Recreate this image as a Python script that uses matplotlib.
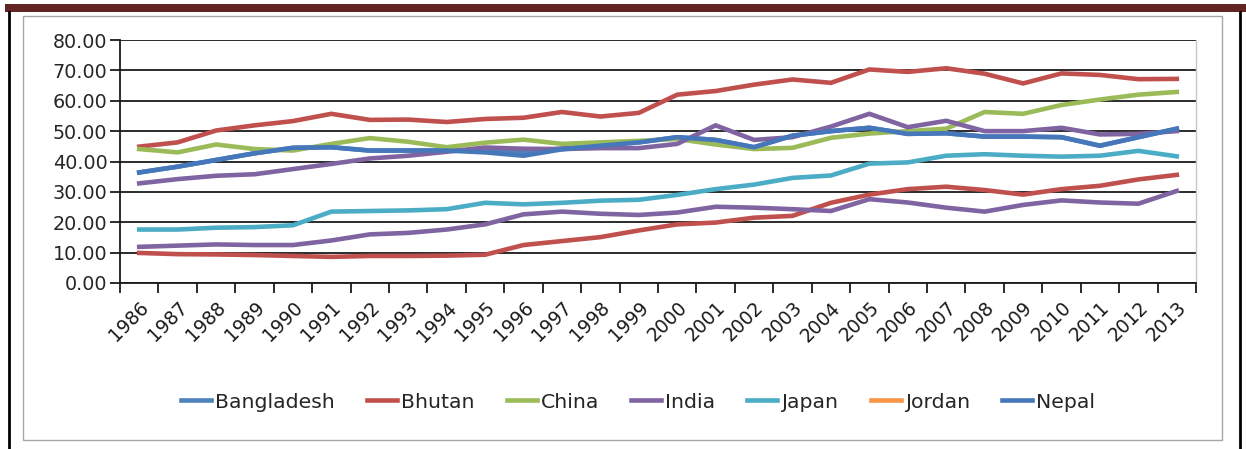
import numpy as np
import matplotlib
matplotlib.use("Agg")
import matplotlib.pyplot as plt
from matplotlib.lines import Line2D
from matplotlib.patches import Rectangle

years = list(range(1986, 2014))

bangladesh = [36.4, 38.3, 40.5, 42.7, 44.5, 44.7, 43.6, 43.6, 43.6, 43.5, 43.0, 44.3, 45.3, 46.3,
              48.0, 47.1, 44.7, 48.5, 50.0, 51.1, 49.1, 49.3, 48.2, 48.2, 48.0, 45.2, 48.0, 50.8]
bhutan = [44.9, 46.3, 50.2, 51.9, 53.3, 55.7, 53.7, 53.8, 53.0, 54.0, 54.4, 56.3, 54.8, 56.0,
          62.0, 63.2, 65.3, 67.0, 65.9, 70.3, 69.5, 70.7, 68.9, 65.7, 69.0, 68.5, 67.1, 67.2]
china = [44.1, 43.0, 45.6, 44.1, 43.6, 45.8, 47.7, 46.5, 44.7, 46.2, 47.2, 45.8, 46.3, 46.8,
         47.4, 45.6, 44.1, 44.5, 47.8, 49.2, 50.0, 50.8, 56.3, 55.7, 58.6, 60.4, 62.0, 62.9]
india = [32.8, 34.2, 35.3, 35.8, 37.5, 39.2, 41.0, 41.9, 43.2, 44.6, 44.2, 44.1, 44.4, 44.4,
         45.8, 51.9, 47.1, 48.0, 51.5, 55.7, 51.3, 53.4, 50.0, 50.0, 51.1, 48.9, 49.1, 50.0]
japan = [17.6, 17.6, 18.2, 18.4, 19.0, 23.5, 23.7, 23.9, 24.3, 26.4, 25.9, 26.4, 27.1, 27.4,
         29.0, 30.9, 32.4, 34.6, 35.4, 39.3, 39.7, 41.9, 42.4, 41.9, 41.6, 41.9, 43.5, 41.7]
jordan = [np.nan] * len(years)
nepal = [36.4, 38.3, 40.5, 42.7, 44.5, 44.7, 43.6, 43.6, 43.6, 43.0, 41.9, 44.0, 45.2, 46.3,
         48.0, 47.1, 44.7, 48.5, 50.0, 51.1, 49.1, 49.3, 48.2, 48.2, 48.0, 45.2, 48.0, 50.8]
# two further series drawn with the same palette but left out of the legend
lower_red = [9.9, 9.5, 9.4, 9.2, 8.9, 8.6, 8.9, 8.9, 9.0, 9.3, 12.5, 13.8, 15.1, 17.3,
             19.3, 19.9, 21.5, 22.1, 26.4, 29.1, 30.9, 31.7, 30.6, 29.1, 30.9, 32.0, 34.1, 35.6]
lower_purple = [11.9, 12.3, 12.7, 12.5, 12.5, 14.0, 16.0, 16.5, 17.6, 19.3, 22.6, 23.5, 22.8, 22.4,
                23.2, 25.1, 24.8, 24.3, 23.7, 27.6, 26.5, 24.8, 23.5, 25.7, 27.2, 26.5, 26.1, 30.3]

yticks = [0, 10, 20, 30, 40, 50, 60, 70, 80]

series = [
    ("Bangladesh", bangladesh, "#4F81BD"),
    ("Bhutan", bhutan, "#C0504D"),
    ("China", china, "#9BBB59"),
    ("India", india, "#8064A2"),
    ("Japan", japan, "#4BACC6"),
    ("Jordan", jordan, "#F79646"),
    ("Nepal", nepal, "#4677BA"),
]
unlabeled = [(lower_red, "#C0504D"), (lower_purple, "#8064A2")]

W, H = 1246, 449
fig = plt.figure(figsize=(W / 100, H / 100), dpi=100)
fig.patch.set_facecolor("white")

# page decoration: maroon band, black side rules, grey chart frame
fig.add_artist(Rectangle((5 / W, 1 - 12 / H), 1 - 5 / W, 8 / H, transform=fig.transFigure,
                         facecolor="#632523", edgecolor="none"))
fig.add_artist(Line2D([9 / W, 9 / W], [0, 1 - 12 / H], transform=fig.transFigure,
                      color="black", lw=2))
fig.add_artist(Line2D([1240 / W, 1240 / W], [0, 1 - 12 / H], transform=fig.transFigure,
                      color="black", lw=2))
fig.add_artist(Rectangle((22.5 / W, 9 / H), (1221.5 - 22.5) / W, (437 - 13) / H,
                         transform=fig.transFigure, facecolor="none",
                         edgecolor="#A6A6A6", lw=1))

left, right, top, bottom = 120, 1196, 40, 283
ax = fig.add_axes([left / W, 1 - bottom / H, (right - left) / W, (bottom - top) / H])

x = np.arange(len(years))
lw = 3.3
for name, vals, col in series[:6]:
    ax.plot(x, vals, color=col, lw=lw, label=name, solid_joinstyle="miter", zorder=3)
for vals, col in unlabeled:
    ax.plot(x, vals, color=col, lw=lw, solid_joinstyle="miter", zorder=3)
name, vals, col = series[6]
ax.plot(x, vals, color=col, lw=lw, label=name, solid_joinstyle="miter", zorder=3)

ax.set_xlim(-0.5, len(years) - 0.5)
ax.set_ylim(0, 80)
ax.set_yticks(yticks)
ax.set_yticklabels([f"{v:.2f}" for v in yticks])
ax.yaxis.grid(True, color="#1a1a1a", lw=1.3, zorder=1)
ax.set_axisbelow(True)

ax.set_xticks(x)
ax.set_xticklabels([str(y) for y in years], rotation=45, ha="right",
                   rotation_mode="anchor")
ax.set_xticks(np.arange(len(years) + 1) - 0.5, minor=True)
ax.tick_params(axis="x", which="major", length=0, pad=11, labelsize=13.5, colors="#1a1a1a")
ax.tick_params(axis="x", which="minor", length=7, width=1.3, color="#1a1a1a")
ax.tick_params(axis="y", length=7, width=1.3, color="#1a1a1a", labelsize=13.8,
               labelcolor="#262626", pad=2)

ax.spines["top"].set_visible(False)
ax.spines["right"].set_color("#C8C8C8")
ax.spines["right"].set_linewidth(1)
ax.spines["left"].set_color("#1a1a1a")
ax.spines["left"].set_linewidth(1.3)
ax.spines["bottom"].set_color("#1a1a1a")
ax.spines["bottom"].set_linewidth(1.3)

handles, labels = ax.get_legend_handles_labels()
order = [labels.index(n) for n, _, _ in series]
fig.legend([handles[i] for i in order], [labels[i] for i in order],
           loc="center", bbox_to_anchor=(638 / W, 1 - 402 / H), ncol=7, frameon=False,
           fontsize=14.7, handlelength=1.47, handletextpad=0.2, columnspacing=1.57,
           labelcolor="#262626")

fig.savefig("out.png", dpi=100, facecolor="white")
